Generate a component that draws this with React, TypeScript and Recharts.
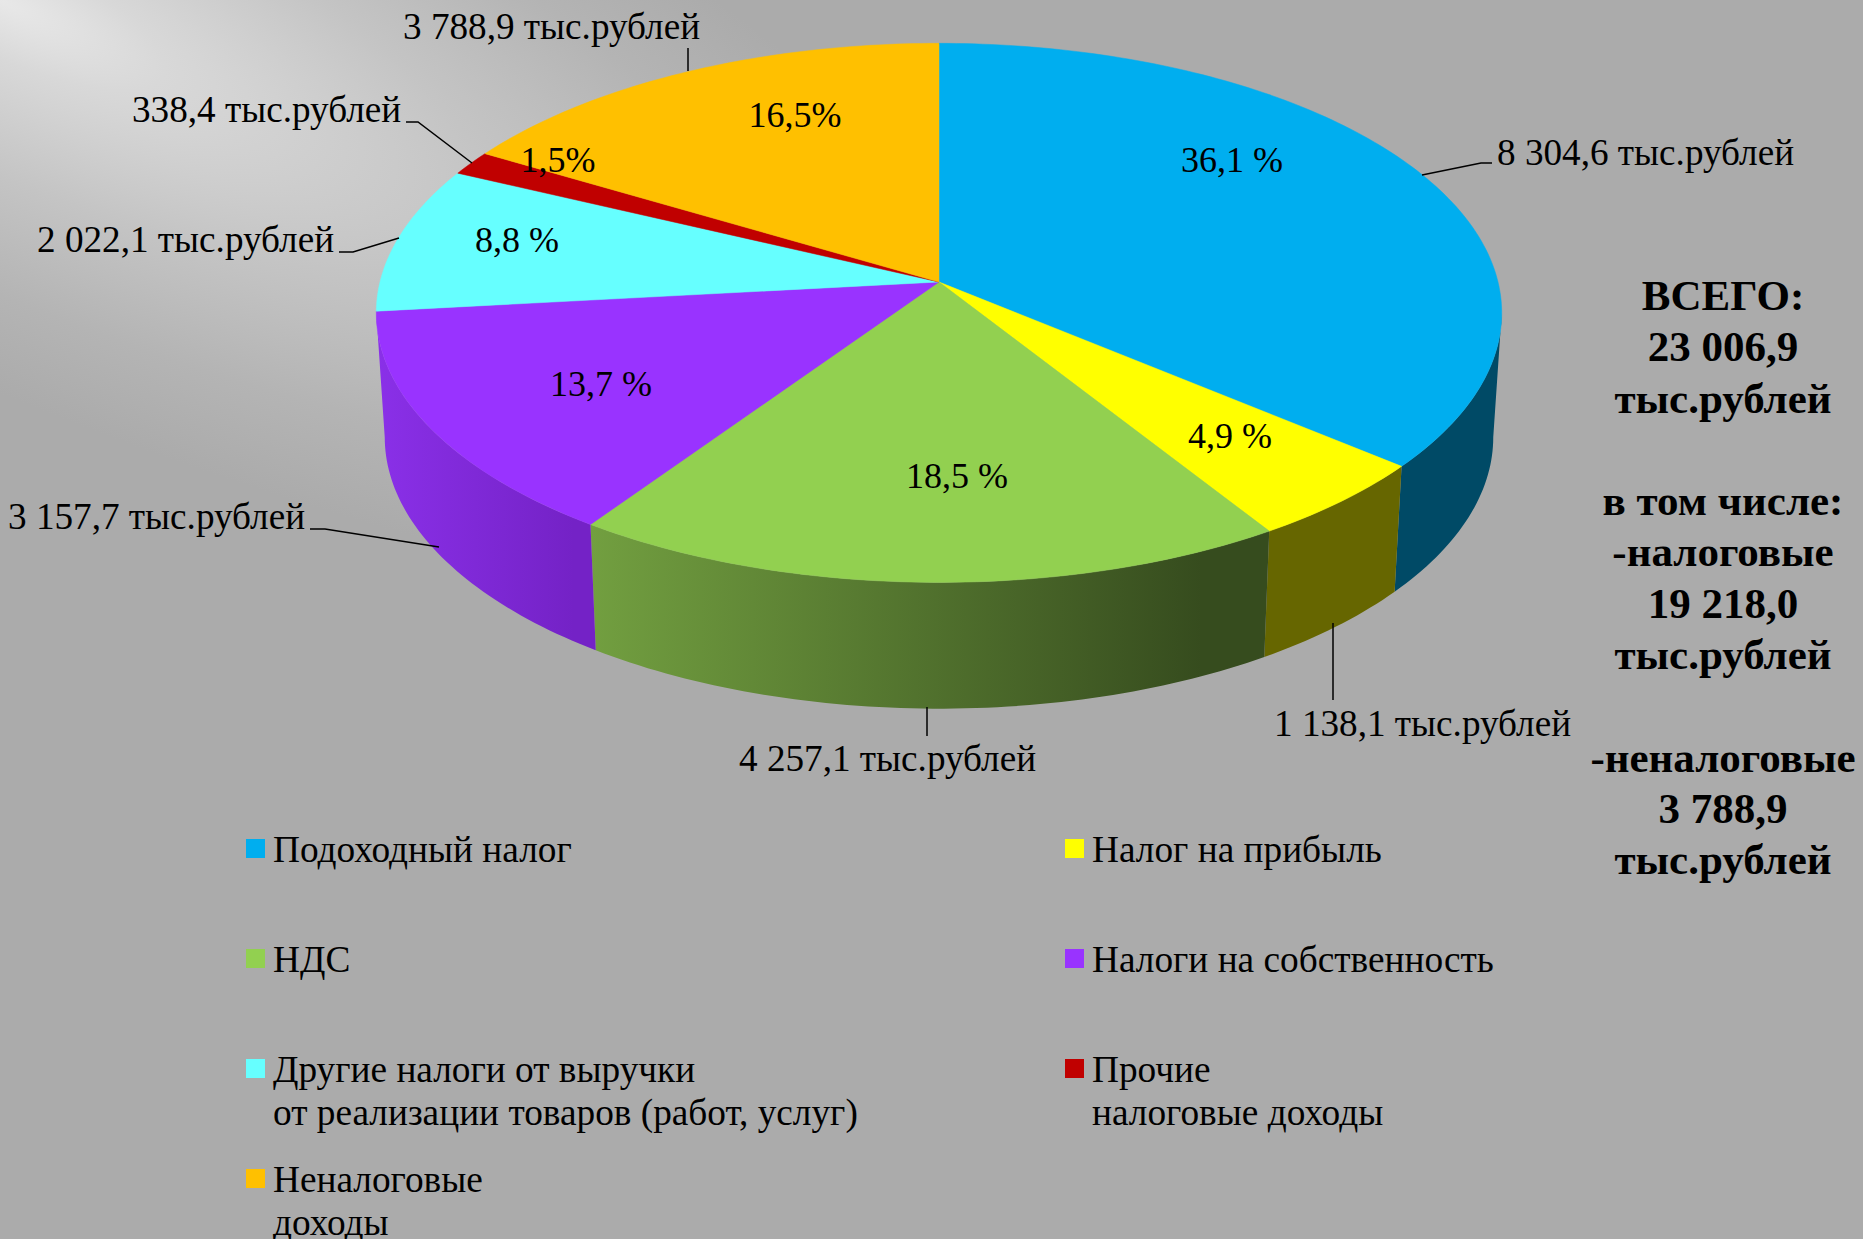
import { Legend, Pie, PieChart } from "recharts";

const categories = [
  "Подоходный налог",
  "Налог на прибыль",
  "НДС",
  "Налоги на собственность",
  "Другие налоги от выручки\nот реализации товаров (работ, услуг)",
  "Прочие\nналоговые доходы",
  "Неналоговые\nдоходы",
];
const values = [8304.6, 1138.1, 4257.1, 3157.7, 2022.1, 338.4, 3788.9];
const valueLabels = [
  "8 304,6 тыс.рублей",
  "1 138,1 тыс.рублей",
  "4 257,1 тыс.рублей",
  "3 157,7 тыс.рублей",
  "2 022,1 тыс.рублей",
  "338,4 тыс.рублей",
  "3 788,9 тыс.рублей",
];
const percentLabels = ["36,1 %", "4,9 %", "18,5 %", "13,7 %", "8,8 %", "1,5%", "16,5%"];
const topColors = ["#00aeef", "#ffff00", "#92d050", "#9933ff", "#66ffff", "#c00000", "#ffc000"];
const wallColors = [
  ["#004a66", "#004a66"],
  ["#666600", "#666600"],
  ["#729f40", "#364c1e"],
  ["#8a30e8", "#7422c6"],
  ["#66ffff", "#66ffff"],
  ["#c00000", "#c00000"],
  ["#ffc000", "#ffc000"],
];
const totalLines = [
  "ВСЕГО:",
  "23 006,9",
  "тыс.рублей",
  "",
  "в том числе:",
  "-налоговые",
  "19 218,0",
  "тыс.рублей",
  "",
  "-неналоговые",
  "3 788,9",
  "тыс.рублей",
];

// text and leader line placement, in page pixels
const valueAt = [
  [1497, 165],
  [1274, 736],
  [739, 771],
  [8, 529],
  [37, 252],
  [132, 122],
  [403, 39],
];
const percentAt = [
  [1232, 172],
  [1230, 448],
  [957, 488],
  [601, 396],
  [517, 252],
  [558, 172],
  [795, 127],
];
const leaders = [
  "1492,163 1481,163 1422,175",
  "1333,623 1333,700",
  "927,707 927,736",
  "310,529 325,529 439,547",
  "339,252 353,252 399,238",
  "406,122 418,122 472,163",
  "688,48 688,71",
];
const legendAt = [
  [246, 839],
  [1065, 839],
  [246, 949],
  [1065, 949],
  [246, 1059],
  [1065, 1059],
  [246, 1169],
];

const FONT = '"Liberation Serif", serif';
const CX = 939;
const CY = 282;
const RADIUS = 559;
const SQUASH = 266 / 559;
const BOTTOM_SQUASH = 268 / 559;
const TILT = 0.1145;
const WALL_DROP = 124;
const WALL_SCALE = 0.985;
const FRONT_FROM = 96.6;
const FRONT_TO = 263.4;

const slices = categories.map((name, i) => ({ label: name, value: values[i], fill: topColors[i] }));

// project a clockwise-from-top angle on the tilted disc
function project(deg: number, r: number, squash: number, drop = 0) {
  const a = (deg * Math.PI) / 180;
  const x = Math.sin(a);
  const y = -Math.cos(a);
  const d = 1 - TILT * y;
  return { x: (r * x) / d, y: CY + drop + (r * squash * y) / d };
}

function arc(from: number, to: number, r: number, bottom = false) {
  const pts: string[] = [];
  const n = Math.max(2, Math.ceil(to - from));
  for (let i = 0; i <= n; i++) {
    const deg = from + ((to - from) * i) / n;
    const p = bottom ? project(deg, r, BOTTOM_SQUASH, WALL_DROP) : project(deg, r, SQUASH);
    pts.push(`${CX + p.x * (bottom ? WALL_SCALE : 1)},${p.y}`);
  }
  return pts;
}

function TopSlice(props: any) {
  const from = 90 - props.startAngle;
  const to = 90 - props.endAngle;
  const pts = [`${CX},${CY}`, ...arc(from, to, props.outerRadius)];
  return <polygon points={pts.join(" ")} fill={props.fill} stroke={props.fill} strokeWidth={0.5} />;
}

function WallSlice(props: any) {
  const i = topColors.indexOf(props.fill);
  const from = Math.max(90 - props.startAngle, FRONT_FROM);
  const to = Math.min(90 - props.endAngle, FRONT_TO);
  if (to <= from || i < 0) return null;
  const r = props.outerRadius;
  const pts = [...arc(from, to, r), ...arc(from, to, r, true).reverse()];
  return (
    <g>
      <defs>
        <linearGradient id={`wall${i}`} x1="0" y1="0" x2="1" y2="0">
          <stop offset="0" stopColor={wallColors[i][0]} />
          <stop offset="0.9" stopColor={wallColors[i][1]} />
        </linearGradient>
      </defs>
      <polygon points={pts.join(" ")} fill={`url(#wall${i})`} />
    </g>
  );
}

function SliceLabel(props: any) {
  const i = topColors.indexOf(props.fill);
  if (i < 0) return null;
  return (
    <g fontFamily={FONT} fill="#000">
      <polyline points={leaders[i]} fill="none" stroke="#000" strokeWidth={1.5} />
      <text x={valueAt[i][0]} y={valueAt[i][1]} fontSize={37.2}>{valueLabels[i]}</text>
      <text x={percentAt[i][0]} y={percentAt[i][1]} fontSize={36} textAnchor="middle">{percentLabels[i]}</text>
    </g>
  );
}

function ChartLegend() {
  return (
    <div style={{ position: "relative", width: 1863, height: 1239, fontFamily: FONT, fontSize: 37.3, color: "#000" }}>
      {categories.map((name, i) => (
        <div key={name} style={{ position: "absolute", left: legendAt[i][0], top: legendAt[i][1] }}>
          <div style={{ position: "absolute", width: 19, height: 19, background: topColors[i] }} />
          {name.split("\n").map((line, j) => (
            <div
              key={j}
              style={{ position: "absolute", left: 27, top: -4 + j * 43, lineHeight: "30px", whiteSpace: "pre" }}
            >
              {line}
            </div>
          ))}
        </div>
      ))}
    </div>
  );
}

export default function App() {
  return (
    <div
      style={{
        position: "absolute",
        left: 0,
        top: 0,
        width: 1863,
        height: 1239,
        overflow: "hidden",
        background: "#ababab",
      }}
    >
      {/* slanted highlight in the top left corner */}
      <div
        style={{
          position: "absolute",
          left: -1500,
          top: -500,
          width: 3000,
          height: 1000,
          transform: "rotate(25deg)",
          background:
            "radial-gradient(ellipse 1200px 360px at center, #e8e8e8 0%, #d8d8d8 15%, #c4c4c4 45%, #b4b4b4 75%, #ababab 100%)",
        }}
      />
      <div style={{ position: "absolute", left: 0, top: 0 }}>
        <PieChart width={1863} height={1239} margin={{ top: 0, right: 0, bottom: 0, left: 0 }}>
          <Pie
            data={slices}
            dataKey="value"
            nameKey="label"
            cx={CX}
            cy={CY}
            outerRadius={RADIUS}
            startAngle={90}
            endAngle={-270}
            legendType="none"
            stroke="none"
            isAnimationActive={false}
            shape={WallSlice}
          />
          <Pie
            data={slices}
            dataKey="value"
            nameKey="label"
            cx={CX}
            cy={CY}
            outerRadius={RADIUS}
            startAngle={90}
            endAngle={-270}
            legendType="square"
            stroke="none"
            isAnimationActive={false}
            shape={TopSlice}
            label={SliceLabel}
            labelLine={false}
          />
          <Legend
            content={ChartLegend}
            layout="vertical"
            align="left"
            verticalAlign="top"
            wrapperStyle={{ left: 0, top: 0, width: 1863 }}
          />
        </PieChart>
      </div>
      <div
        style={{
          position: "absolute",
          left: 1583,
          width: 280,
          top: 270,
          textAlign: "center",
          fontFamily: FONT,
          fontWeight: 700,
          fontSize: 43,
          lineHeight: "51.3px",
          whiteSpace: "pre",
        }}
      >
        {totalLines.map((line, i) => (
          <div key={i} style={{ height: 51.3 }}>{line}</div>
        ))}
      </div>
    </div>
  );
}
